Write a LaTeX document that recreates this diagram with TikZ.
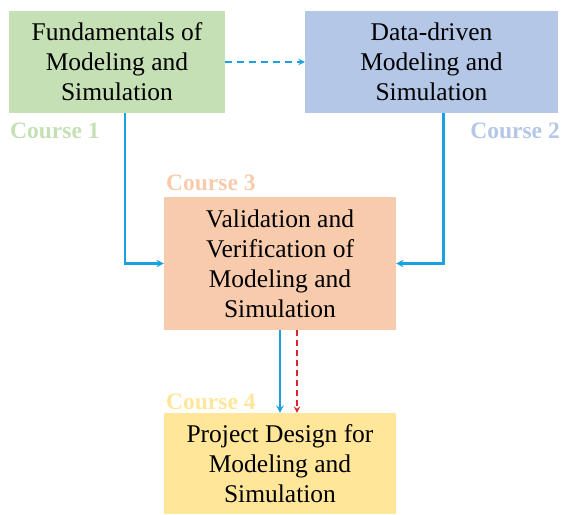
\documentclass[tikz,border=0pt]{standalone}
\usepackage{fontspec}
\setmainfont{Liberation Serif}
\usetikzlibrary{arrows}
\definecolor{fundgreen}{HTML}{C5E0B4}
\definecolor{datablue}{HTML}{B4C7E7}
\definecolor{vvorange}{HTML}{F8CBAD}
\definecolor{projyellow}{HTML}{FFE699}
\definecolor{flowblue}{HTML}{1BA1E2}
\definecolor{flowred}{HTML}{D9262B}
\tikzstyle{course} = [rectangle, minimum width=216pt, minimum height=102pt, text centered, align=center, inner sep=2pt, font=\fontsize{25.5}{30}\selectfont]
\tikzstyle{tag} = [inner sep=0pt, font=\bfseries\fontsize{23.5}{27}\selectfont]
\tikzstyle{arrow} = [line width=2.2pt, ->, >=stealth, color=flowblue]
\tikzstyle{dasharrow} = [line width=1.8pt, dash pattern=on 7pt off 5pt, ->, >=stealth]

\begin{document}
\begin{tikzpicture}[x=1pt,y=-1pt]
            \useasboundingbox (0,0) rectangle (562,514);
            \node [course, fill=fundgreen] at (117,62) (c1) {Fundamentals of\\Modeling and\\Simulation};
            \node [course, fill=datablue, minimum width=253pt] at (431.5,62) (c2) {Data-driven\\Modeling and\\Simulation};
            \node [course, fill=vvorange, minimum width=232pt, minimum height=133pt] at (280,263.5) (c3) {Validation and\\Verification of\\Modeling and\\Simulation};
            \node [course, fill=projyellow, minimum width=232pt, minimum height=101pt] at (280,463.5) (c4) {Project Design for\\Modeling and\\Simulation};

            \node [tag, text=fundgreen, anchor=west] at (10,131) (t1) {Course 1};
            \node [tag, text=datablue, anchor=east] at (560,131) (t2) {Course 2};
            \node [tag, text=vvorange, anchor=west] at (166,183) (t3) {Course 3};
            \node [tag, text=projyellow, anchor=west] at (166,402) (t4) {Course 4};

            \draw [dasharrow, flowblue] (c1) -- (c2);
            \draw [arrow] ([xshift=8pt]c1.south) |- (c3.west);
            \draw [arrow] ([xshift=12pt]c2.south) |- (c3.east);
            \draw [arrow] (c3.south) -- (c4.north);
            \draw [dasharrow, flowred, dash pattern=on 6pt off 4pt] ([xshift=17pt]c3.south) -- ([xshift=17pt]c4.north);
\end{tikzpicture}
\end{document}
